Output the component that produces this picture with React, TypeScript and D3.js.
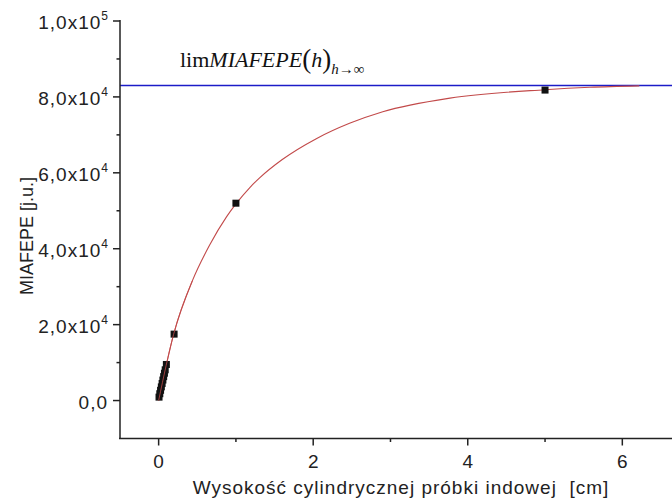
import { useEffect, useRef } from 'react'
import * as d3 from 'd3'

// measured points (height h [cm], MIAFEPE [j.u.])
const pointH = [0.005, 0.015, 0.025, 0.035, 0.045, 0.055, 0.065, 0.075, 0.085, 0.1, 0.2, 1, 5]
const pointY = [900, 1800, 2700, 3600, 4500, 5400, 6300, 7200, 8100, 9500, 17500, 52000, 81800]

// fitted curve
const fitH = [0, 0.194, 0.44, 0.66, 0.88, 1.0, 1.18, 1.31, 1.6, 2.04, 2.47, 2.9, 3.77, 5.0, 5.58, 6.22]
const fitY = [0, 17460, 31730, 40970, 48450, 51810, 56130, 58730, 63500, 69000, 73050, 76100, 79680, 81890, 82530, 82910]

const limitValue = 83000

const xMajor = [0, 2, 4, 6]
const xMinor = [1, 3, 5]
const yMajor = [0, 20000, 40000, 60000, 80000, 100000]
const yMinor = [10000, 30000, 50000, 70000, 90000]

const SANS = '"Liberation Sans", Arial, sans-serif'
const SERIF = '"Liberation Serif", "Times New Roman", serif'

export default function App() {
  const ref = useRef<SVGSVGElement>(null)

  useEffect(() => {
    if (!ref.current) return
    const svg = d3.select(ref.current)
    svg.selectAll('*').remove()

    const width = 672
    const height = 500
    svg.attr('width', width).attr('height', height)

    const x = d3.scaleLinear().domain([-0.5, 7]).range([120, 120 + 7.5 * 77.28])
    const y = d3.scaleLinear().domain([-10000, 100000]).range([438.5, 21])

    const axisColor = '#222'

    // limit line
    svg.append('line')
      .attr('x1', x(-0.5)).attr('x2', x(7))
      .attr('y1', y(limitValue)).attr('y2', y(limitValue))
      .attr('stroke', '#1c1cc8').attr('stroke-width', 1.6)

    // fitted curve
    const fit = fitH.map((h, i) => [h, fitY[i]] as [number, number])
    const line = d3.line<[number, number]>()
      .x(d => x(d[0])).y(d => y(d[1]))
      .curve(d3.curveMonotoneX)
    svg.append('path')
      .attr('d', line(fit))
      .attr('fill', 'none')
      .attr('stroke', '#c24a4a')
      .attr('stroke-width', 1.1)

    // points
    const pts = pointH.map((h, i) => [h, pointY[i]] as [number, number])
    const s = 7
    svg.append('g').selectAll('rect')
      .data(pts)
      .join('rect')
      .attr('x', d => x(d[0]) - s / 2)
      .attr('y', d => y(d[1]) - s / 2)
      .attr('width', s).attr('height', s)
      .attr('fill', '#111')

    // thin red line visible through the cluster
    svg.append('path')
      .attr('d', line(fit.slice(0, 3)))
      .attr('fill', 'none')
      .attr('stroke', '#c24a4a')
      .attr('stroke-width', 0.8)

    // axes
    svg.append('line')
      .attr('x1', 120).attr('x2', 120)
      .attr('y1', y(100000) - 1).attr('y2', y(-10000))
      .attr('stroke', axisColor).attr('stroke-width', 1.5)
    svg.append('line')
      .attr('x1', 119).attr('x2', width)
      .attr('y1', y(-10000)).attr('y2', y(-10000))
      .attr('stroke', axisColor).attr('stroke-width', 1.5)

    yMajor.forEach(v => {
      svg.append('line')
        .attr('x1', 113).attr('x2', 120)
        .attr('y1', y(v)).attr('y2', y(v))
        .attr('stroke', axisColor).attr('stroke-width', 1.5)
      const t = svg.append('text')
        .attr('x', 108).attr('y', y(v) + 8)
        .attr('text-anchor', 'end')
        .attr('font-family', SANS).attr('font-size', 19)
        .attr('letter-spacing', 1)
        .attr('fill', '#222')
      if (v === 0) {
        t.text('0,0')
      } else {
        const exp = Math.floor(Math.log10(v))
        const mant = v / Math.pow(10, exp)
        t.append('tspan').text(`${mant.toFixed(1).replace('.', ',')}x10`)
        t.append('tspan').attr('font-size', 12).attr('letter-spacing', 0).attr('dy', -9).text(`${exp}`)
      }
    })
    yMinor.forEach(v => {
      svg.append('line')
        .attr('x1', 116.5).attr('x2', 120)
        .attr('y1', y(v)).attr('y2', y(v))
        .attr('stroke', axisColor).attr('stroke-width', 1.5)
    })

    xMajor.forEach(v => {
      svg.append('line')
        .attr('x1', x(v)).attr('x2', x(v))
        .attr('y1', y(-10000)).attr('y2', y(-10000) + 7)
        .attr('stroke', axisColor).attr('stroke-width', 1.5)
      svg.append('text')
        .attr('x', x(v)).attr('y', 468)
        .attr('text-anchor', 'middle')
        .attr('font-family', SANS).attr('font-size', 19)
        .attr('fill', '#222')
        .text(`${v}`)
    })
    xMinor.forEach(v => {
      svg.append('line')
        .attr('x1', x(v)).attr('x2', x(v))
        .attr('y1', y(-10000)).attr('y2', y(-10000) + 3.5)
        .attr('stroke', axisColor).attr('stroke-width', 1.5)
    })

    // axis titles
    svg.append('text')
      .attr('x', 401).attr('y', 494)
      .attr('text-anchor', 'middle')
      .attr('font-family', SANS).attr('font-size', 19)
      .attr('letter-spacing', 1)
      .attr('fill', '#222')
      .style('white-space', 'pre')
      .text('Wysokość cylindrycznej próbki indowej  [cm]')

    svg.append('text')
      .attr('transform', 'rotate(-90)')
      .attr('x', -236).attr('y', 33)
      .attr('text-anchor', 'middle')
      .attr('font-family', SANS).attr('font-size', 18)
      .attr('fill', '#222')
      .text('MIAFEPE [j.u.]')

    // limit formula
    const f = svg.append('text')
      .attr('x', 180).attr('y', 67)
      .attr('font-family', SERIF).attr('font-size', 22)
      .attr('fill', '#111')
    f.append('tspan').text('lim')
    f.append('tspan').attr('font-style', 'italic').text('MIAFEPE')
    f.append('tspan').attr('font-size', 27).attr('dy', 1).text('(')
    f.append('tspan').attr('font-style', 'italic').attr('dy', -1).text('h')
    f.append('tspan').attr('font-size', 27).attr('dy', 1).text(')')
    f.append('tspan').attr('font-size', 15).attr('font-style', 'italic').attr('dy', 6).text('h')
    f.append('tspan').attr('font-size', 15).text('→∞')
  }, [])

  return (
    <div style={{ position: 'absolute', left: 0, top: 0 }}>
      <svg ref={ref} style={{ display: 'block', background: '#fff' }} />
    </div>
  )
}
